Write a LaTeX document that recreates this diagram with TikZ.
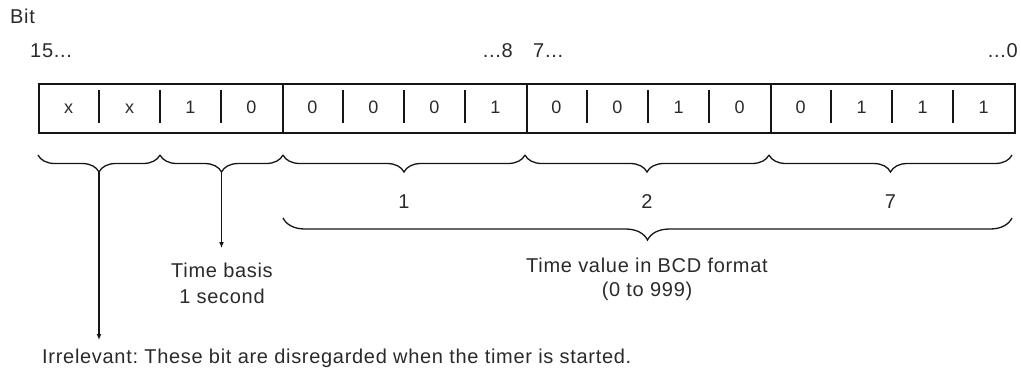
\documentclass[tikz,border=0pt]{standalone}
\usepackage{fontspec}
\setmainfont{Liberation Sans}[LetterSpace=3.5]
\frenchspacing
\usetikzlibrary{decorations.pathreplacing,arrows.meta}
\definecolor{txt}{HTML}{2A2A2A}
\definecolor{ln}{HTML}{151515}
\begin{document}
\begin{tikzpicture}[x=1pt,y=-1pt,
  every node/.style={inner sep=0pt, font=\fontsize{20}{24}\selectfont, text=txt},
  lbl/.style={anchor=base},
  cell/.style={anchor=base, font=\fontsize{18}{22}\selectfont},
  brc/.style={draw=ln, decorate, decoration={brace, mirror, amplitude=17pt}, line width=1.3pt},
  bigbrc/.style={draw=ln, decorate, decoration={brace, mirror, amplitude=22pt}, line width=1.3pt},
  arr/.style={draw=ln, -{Latex[length=6pt,width=5pt]}, line width=1.3pt},
  grp/.style={draw=ln, line width=1.5pt, minimum width=244pt, minimum height=49pt, anchor=north west},
  div/.style={draw=ln, line width=1.6pt}
]
\useasboundingbox (0,0) rectangle (1021,376);

% bit register
\node[grp] (g1) at (38,83) {};
\node[grp] (g2) at (282,83) {};
\node[grp] (g3) at (526,83) {};
\node[grp] (g4) at (770,83) {};
\foreach \i in {1,2,3,5,6,7,9,10,11,13,14,15}
  \draw[div] ({38+61*\i},90) -- ({38+61*\i},123);
\foreach \v [count=\i from 0] in {x,x,1,0,0,0,0,1,0,0,1,0,0,1,1,1}
  \node[cell] (c\i) at ({68.5+61*\i},113) {\v};

% bit numbers
\node[anchor=base west] (bit) at (10,23) {Bit};
\node[anchor=base west] (n15) at (30,57) {15...};
\node[anchor=base east] (n8) at (513,57) {...8};
\node[anchor=base west] (n7) at (533,57) {7...};
\node[anchor=base east] (n0) at (1018,57) {...0};

% braces
\coordinate (p0) at (38,155);
\coordinate (p1) at (160,155);
\coordinate (p2) at (283,155);
\coordinate (p3) at (525,155);
\coordinate (p4) at (769,155);
\coordinate (p5) at (1012,155);
\draw[brc] (p0) -- (p1);
\draw[brc] (p1) -- (p2);
\draw[brc] (p2) -- (p3);
\draw[brc] (p3) -- (p4);
\draw[brc] (p4) -- (p5);

\node[lbl] (d1) at (404,208) {1};
\node[lbl] (d2) at (647,208) {2};
\node[lbl] (d7) at (890.5,208) {7};

\coordinate (q0) at (283,218);
\coordinate (q1) at (1012,218);
\draw[bigbrc] (q0) -- (q1);
\node[lbl] (tv1) at (647,272) {Time value in BCD format};
\node[lbl] (tv2) at (647,296) {(0 to 999)};

% arrows
\coordinate (t1) at (99,172);
\coordinate (a1) at (99,340);
\coordinate (t2) at (221.5,172);
\coordinate (a2) at (221.5,248);
\draw[arr] (t1) -- (a1);
\draw[arr] (t2) -- (a2);

\node[lbl] (tb1) at (222,277) {Time basis};
\node[lbl] (tb2) at (222,303) {1 second};
\node[anchor=base west] (irr) at (42,363) {Irrelevant: These bit are disregarded when the timer is started.};
\end{tikzpicture}
\end{document}
